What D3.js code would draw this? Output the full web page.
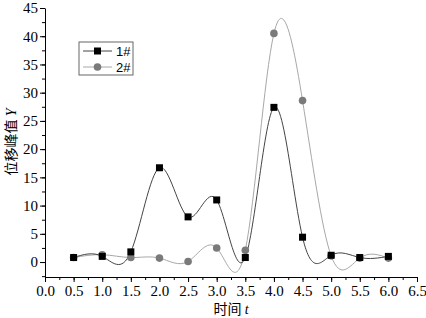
<!DOCTYPE html>
<html>
<head>
<meta charset="utf-8">
<script src="https://cdn.jsdelivr.net/npm/d3@7"></script>
<style>
body { margin: 0; background: #fff; }
svg text { fill: #000; }
</style>
</head>
<body>
<div id="chart"></div>
<script>
// data
let times = [0.5, 1.0, 1.5, 2.0, 2.5, 3.0, 3.5, 4.0, 4.5, 5.0, 5.5, 6.0];
let series1 = [0.8, 1.0, 1.8, 16.7, 8.0, 11.0, 0.8, 27.4, 4.4, 1.2, 0.8, 1.0];
let series2 = [0.8, 1.3, 0.8, 0.7, 0.1, 2.5, 2.1, 40.5, 28.6, 1.1, 0.7, 0.7];
let xTicks = [0, 0.5, 1, 1.5, 2, 2.5, 3, 3.5, 4, 4.5, 5, 5.5, 6, 6.5];
let yTicks = [0, 5, 10, 15, 20, 25, 30, 35, 40, 45];

const width = 426, height = 318;
const plotLeft = 45, plotRight = 417, plotTop = 8, plotBottom = 277;

let svg = d3.select("#chart")
    .append("svg")
    .attr("width", width)
    .attr("height", height);

let x = d3.scaleLinear().domain([0, 6.5]).range([plotLeft, plotRight]);
let y = d3.scaleLinear().domain([-2.65, 45]).range([plotBottom, plotTop]);

// x axis with minor ticks
svg.append("g")
    .attr("transform", `translate(0, ${plotBottom})`)
    .call(d3.axisBottom(x).tickValues(d3.range(0, 6.51, 0.25)).tickSize(3).tickFormat(""))
    .call(g => g.select(".domain").remove());
svg.append("g")
    .attr("transform", `translate(0, ${plotBottom})`)
    .call(d3.axisBottom(x).tickValues(xTicks).tickSize(5).tickPadding(3).tickSizeOuter(0)
        .tickFormat(d3.format(".1f")))
    .call(g => g.selectAll("text")
        .style("font-family", "Liberation Serif")
        .style("font-size", "15px"));

// y axis with minor ticks
svg.append("g")
    .attr("transform", `translate(${plotLeft}, 0)`)
    .call(d3.axisLeft(y).tickValues(d3.range(-2.5, 45.1, 2.5)).tickSize(3).tickFormat(""))
    .call(g => g.select(".domain").remove());
svg.append("g")
    .attr("transform", `translate(${plotLeft}, 0)`)
    .call(d3.axisLeft(y).tickValues(yTicks).tickSize(5).tickPadding(2).tickSizeOuter(0))
    .call(g => g.selectAll("text")
        .style("font-family", "Liberation Serif")
        .style("font-size", "15px"));

svg.selectAll(".tick line").attr("stroke", "#000");
svg.selectAll(".domain").attr("stroke", "#000");

// axis labels
let xl = svg.append("text")
    .attr("x", 231)
    .attr("y", 314)
    .style("text-anchor", "middle")
    .style("font-size", "14px");
xl.append("tspan").style("font-family", "Noto Sans CJK SC").text("时间 ");
xl.append("tspan").style("font-family", "Liberation Serif").style("font-style", "italic").text("t");

let yl = svg.append("text")
    .attr("transform", "translate(16, 142) rotate(-90)")
    .style("text-anchor", "middle")
    .style("font-size", "14px");
yl.append("tspan").style("font-family", "Noto Sans CJK SC").text("位移峰值 ");
yl.append("tspan").style("font-family", "Liberation Serif").style("font-style", "italic").text("Y");

// spline curves
let line = d3.line()
    .x((d, i) => x(times[i]))
    .y(d => y(d))
    .curve(d3.curveNatural);

svg.append("path")
    .attr("d", line(series2))
    .attr("fill", "none")
    .attr("stroke", "#a8a8a8")
    .attr("stroke-width", 1);

svg.append("path")
    .attr("d", line(series1))
    .attr("fill", "none")
    .attr("stroke", "#444")
    .attr("stroke-width", 1);

// markers
svg.selectAll(".m2").data(series2).enter()
    .append("circle")
    .attr("class", "m2")
    .attr("cx", (d, i) => x(times[i]))
    .attr("cy", d => y(d))
    .attr("r", 3.8)
    .attr("fill", "#7a7a7a");

svg.selectAll(".m1").data(series1).enter()
    .append("rect")
    .attr("class", "m1")
    .attr("x", (d, i) => x(times[i]) - 3.5)
    .attr("y", d => y(d) - 3.5)
    .attr("width", 7)
    .attr("height", 7)
    .attr("fill", "#000");

// legend
let legend = svg.append("g").attr("transform", "translate(79, 42)");
legend.append("rect")
    .attr("width", 54).attr("height", 33)
    .attr("fill", "#fff").attr("stroke", "#666").attr("stroke-width", 1);
let items = [["1#", "#444", "rect"], ["2#", "#a8a8a8", "circle"]];
items.forEach((it, k) => {
    let cy = 9 + k * 16;
    legend.append("line")
        .attr("x1", 4).attr("x2", 33).attr("y1", cy).attr("y2", cy)
        .attr("stroke", it[1]);
    if (it[2] == "rect") {
        legend.append("rect").attr("x", 15).attr("y", cy - 3.5)
            .attr("width", 7).attr("height", 7).attr("fill", "#000");
    } else {
        legend.append("circle").attr("cx", 18.5).attr("cy", cy).attr("r", 3.8).attr("fill", "#7a7a7a");
    }
    legend.append("text")
        .attr("x", 37).attr("y", cy + 4.5)
        .style("font-family", "Liberation Sans")
        .style("font-size", "13px")
        .text(it[0]);
});
</script>
</body>
</html>
